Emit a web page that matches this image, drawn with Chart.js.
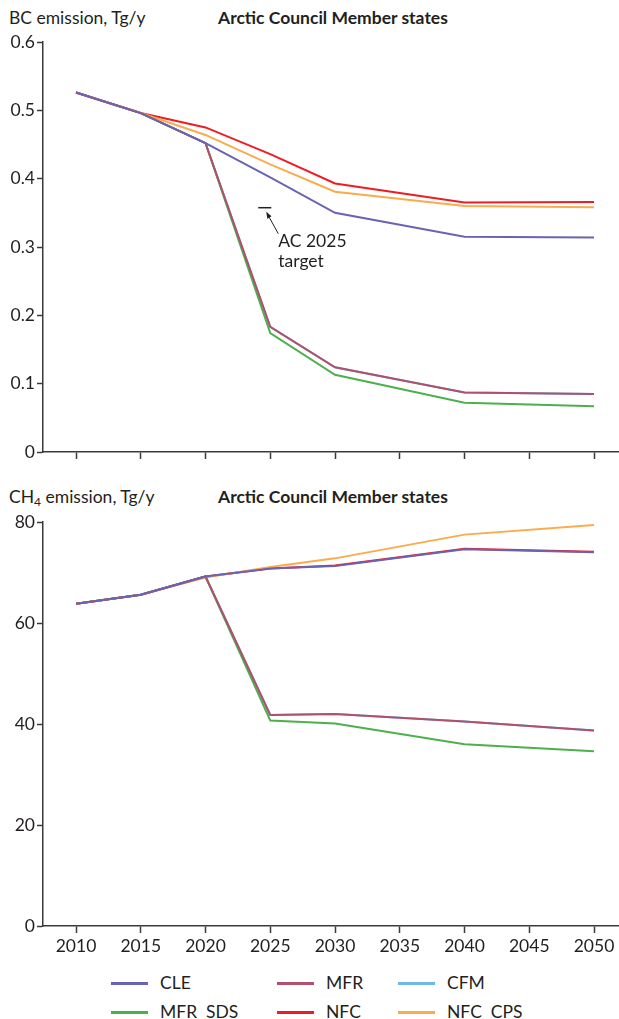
<!DOCTYPE html>
<html>
<head>
<meta charset="utf-8">
<script src="https://cdn.jsdelivr.net/npm/chart.js@4.4.1/dist/chart.umd.min.js"></script>
<style>
  body { margin: 0; background: #fff; width: 619px; height: 1019px; position: relative; overflow: hidden;
         font-family: Lato, "Noto Sans", sans-serif; color: #231f20; }
  .t { position: absolute; font-size: 17.5px; line-height: 20px; white-space: nowrap; }
  .b { font-weight: bold; font-size: 17.5px; }
  canvas { position: absolute; left: 0; }
  .lg { position: absolute; font-size: 17.5px; line-height: 20px; white-space: pre; }
  .sw { position: absolute; height: 2.5px; width: 37px; }
</style>
</head>
<body>
<div class="t" style="left:9px;top:8px">BC emission, Tg/y</div>
<div class="t b" style="left:218px;top:8px">Arctic Council Member states</div>
<canvas id="bc" width="619" height="470" style="top:0"></canvas>

<div class="t" style="left:9px;top:487px">CH<sub style="font-size:12px;vertical-align:-3px;line-height:0">4</sub> emission, Tg/y</div>
<div class="t b" style="left:218px;top:487px">Arctic Council Member states</div>
<canvas id="ch4" width="619" height="490" style="top:480px"></canvas>

<div id="legend"></div>

<script>
// Scenario years with data points
const years = [2010, 2015, 2020, 2025, 2030, 2040, 2050];
const xTicks = [2010, 2015, 2020, 2025, 2030, 2035, 2040, 2045, 2050];

// Black carbon emissions, Tg/y
const bcCLE    = [0.526, 0.496, 0.452, 0.402, 0.350, 0.315, 0.314];
const bcMFR    = [0.526, 0.496, 0.452, 0.183, 0.124, 0.087, 0.085];
const bcCFM    = [0.526, 0.496, 0.452, 0.183, 0.124, 0.087, 0.085];
const bcMFRSDS = [0.526, 0.496, 0.452, 0.174, 0.113, 0.072, 0.067];
const bcNFC    = [0.526, 0.496, 0.475, 0.436, 0.393, 0.365, 0.366];
const bcNFCCPS = [0.526, 0.496, 0.464, 0.421, 0.381, 0.360, 0.358];
const bcTicks  = [0, 0.1, 0.2, 0.3, 0.4, 0.5, 0.6];

// Arctic Council 2025 black carbon target
const targetYear = 2025;
const targetValue = 0.3575;

// Methane emissions, Tg/y
const chCLE    = [63.8, 65.6, 69.2, 70.8, 71.3, 74.6, 74.0];
const chMFR    = [63.8, 65.6, 69.2, 41.8, 42.0, 40.5, 38.7];
const chCFM    = [63.8, 65.6, 69.2, 41.8, 42.0, 40.5, 38.7];
const chMFRSDS = [63.8, 65.6, 69.2, 40.7, 40.1, 36.0, 34.6];
const chNFC    = [63.8, 65.6, 69.2, 70.8, 71.4, 74.7, 74.1];
const chNFCCPS = [63.8, 65.6, 69.0, 71.1, 72.8, 77.5, 79.4];
const chTicks  = [0, 20, 40, 60, 80];

const scenarioColors = {
  'CLE': '#6a63b3', 'MFR': '#b0506c', 'CFM': '#6cb8e6',
  'MFR  SDS': '#4cb04c', 'NFC': '#ee1d24', 'NFC  CPS': '#fbab4c'
};

const INK = '#231f20';
const AXIS = '#3a3a3a';
const FAMILY = 'Lato, "Noto Sans", sans-serif';
const FONT = { family: FAMILY, size: 17.5 };

function series(name, values) {
  return {
    label: name,
    data: years.map((y, i) => ({ x: y, y: values[i] })),
    borderColor: scenarioColors[name],
    backgroundColor: scenarioColors[name],
    borderWidth: 2,
    pointRadius: 0,
    tension: 0,
    fill: false
  };
}

// First dataset is painted last (on top)
function datasets(s) {
  return [
    series('CLE', s.CLE), series('MFR', s.MFR), series('NFC  CPS', s.CPS),
    series('NFC', s.NFC), series('MFR  SDS', s.SDS), series('CFM', s.CFM)
  ];
}

function makeChart(id, ds, yMax, yTicks, showX, xHeight, fmt, extraPlugins) {
  return new Chart(document.getElementById(id), {
    type: 'line',
    data: { datasets: ds },
    options: {
      responsive: false,
      animation: false,
      layout: { padding: { top: 42, left: 0, right: 0, bottom: 0 } },
      plugins: { legend: { display: false }, tooltip: { enabled: false } },
      scales: {
        x: {
          type: 'linear',
          min: 2007.45, max: 2051.93,
          afterBuildTicks: sc => { sc.ticks = xTicks.map(v => ({ value: v })); },
          afterFit: sc => { sc.height = xHeight; },
          grid: { drawOnChartArea: false, drawTicks: true, tickLength: 7, tickWidth: 1.5, tickColor: AXIS },
          border: { display: true, color: AXIS, width: 1.5 },
          ticks: { display: showX, color: INK, font: FONT, padding: 3, maxRotation: 0,
                   callback: v => String(v) }
        },
        y: {
          min: 0, max: yMax,
          afterBuildTicks: sc => { sc.ticks = yTicks.map(v => ({ value: v })); },
          afterFit: sc => { sc.width = 43; },
          grid: { drawOnChartArea: false, drawTicks: true, tickLength: 6, tickWidth: 1.5, tickColor: AXIS },
          border: { display: true, color: AXIS, width: 1.5 },
          ticks: { color: INK, font: FONT, padding: 2, callback: fmt }
        }
      }
    },
    plugins: extraPlugins || []
  });
}

// Target marker with an arrow and caption
const targetMarker = {
  id: 'targetMarker',
  afterDatasetsDraw(chart) {
    const { ctx, scales: { x, y } } = chart;
    const px = x.getPixelForValue(targetYear);
    const py = y.getPixelForValue(targetValue);
    ctx.save();
    ctx.strokeStyle = INK;
    ctx.fillStyle = INK;
    ctx.lineWidth = 1.5;
    ctx.beginPath();
    ctx.moveTo(px - 12, py); ctx.lineTo(px + 1, py);
    ctx.stroke();
    // arrow
    const tx = px - 4, ty = py + 4, sx = px + 8, sy = py + 26;
    ctx.lineWidth = 1;
    ctx.beginPath(); ctx.moveTo(sx, sy); ctx.lineTo(tx + 1, ty + 2); ctx.stroke();
    const ang = Math.atan2(ty - sy, tx - sx);
    ctx.beginPath();
    ctx.moveTo(tx, ty);
    ctx.lineTo(tx - 7 * Math.cos(ang - 0.35), ty - 7 * Math.sin(ang - 0.35));
    ctx.lineTo(tx - 7 * Math.cos(ang + 0.35), ty - 7 * Math.sin(ang + 0.35));
    ctx.closePath(); ctx.fill();
    ctx.font = '17.5px ' + FAMILY;
    ctx.textBaseline = 'middle';
    ctx.textAlign = 'left';
    ctx.fillText('AC 2025', px + 8, py + 34);
    ctx.fillText('target', px + 8, py + 54);
    ctx.restore();
  }
};

makeChart('bc', datasets({ CLE: bcCLE, MFR: bcMFR, CFM: bcCFM, SDS: bcMFRSDS, NFC: bcNFC, CPS: bcNFCCPS }),
  0.6, bcTicks, false, 18, v => (v === 0 ? '0' : v.toFixed(1)), [targetMarker]);

makeChart('ch4', datasets({ CLE: chCLE, MFR: chMFR, CFM: chCFM, SDS: chMFRSDS, NFC: chNFC, CPS: chNFCCPS }),
  80, chTicks, true, 44, v => String(v));

// Legend
const legendPos = [
  ['CLE', 111, 983], ['MFR', 277, 983], ['CFM', 398, 983],
  ['MFR  SDS', 111, 1012], ['NFC', 277, 1012], ['NFC  CPS', 398, 1012]
];
const lg = document.getElementById('legend');
legendPos.forEach(([name, x, y]) => {
  const sw = document.createElement('div');
  sw.className = 'sw';
  sw.style.left = x + 'px';
  sw.style.top = (y - 1) + 'px';
  sw.style.background = scenarioColors[name];
  lg.appendChild(sw);
  const tx = document.createElement('div');
  tx.className = 'lg';
  tx.style.left = (x + 49) + 'px';
  tx.style.top = (y - 10) + 'px';
  tx.textContent = name;
  lg.appendChild(tx);
});
</script>
</body>
</html>
